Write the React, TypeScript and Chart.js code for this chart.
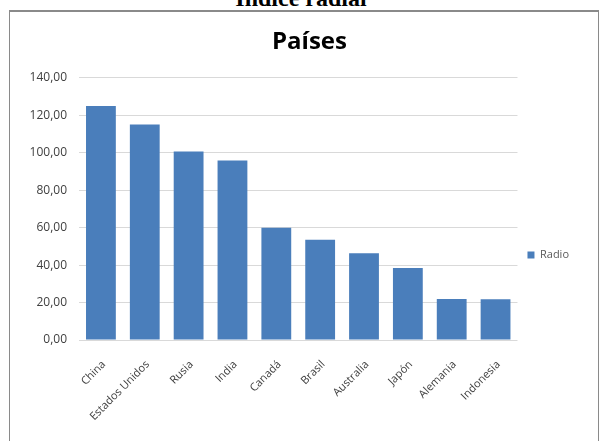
import React, { useEffect, useRef } from "react";
import { Chart, registerables } from "chart.js";

Chart.register(...registerables);

const categories = ["China", "Estados Unidos", "Rusia", "India", "Canadá", "Brasil", "Australia", "Japón", "Alemania", "Indonesia"];
const radioValues = [125, 115, 100.6, 95.8, 60, 53.5, 46.3, 38.4, 21.9, 21.8];
const seriesName = "Radio";
const chartTitle = "Países";
const pageHeading = "Índice radial";

const shiftBoxes = {
  id: "shiftBoxes",
  afterLayout(chart: any) {
    const lg = chart.legend;
    if (lg) {
      lg.top += 28;
      lg.bottom += 28;
    }
    const tb = chart.titleBlock;
    if (tb) {
      tb.left += 15;
      tb.right += 15;
    }
  },
};

export default function App() {
  const ref = useRef<HTMLCanvasElement | null>(null);

  useEffect(() => {
    if (!ref.current) return;
    const chart = new Chart(ref.current, {
      type: "bar",
      data: {
        labels: categories,
        datasets: [
          {
            label: seriesName,
            data: radioValues,
            backgroundColor: "#4a7ebb",
            borderWidth: 0,
            categoryPercentage: 0.68,
            barPercentage: 1,
          },
        ],
      },
      plugins: [shiftBoxes],
      options: {
        animation: false,
        responsive: true,
        maintainAspectRatio: false,
        layout: { padding: { left: 0, right: 19, top: 0, bottom: 0 } },
        plugins: {
          title: {
            display: true,
            text: chartTitle,
            font: { family: "'Open Sans', 'Liberation Sans', sans-serif", size: 24, weight: "bold" },
            color: "#000000",
            padding: { top: 15, bottom: 21 },
          },
          legend: {
            position: "right",
            labels: {
              boxWidth: 7,
              boxHeight: 7,
              padding: 10,
              color: "#595959",
              font: { family: "'Open Sans', 'Liberation Sans', sans-serif", size: 11 },
            },
          },
          tooltip: { enabled: false },
        },
        scales: {
          x: {
            grid: { display: false },
            border: { display: false },
            ticks: {
              color: "#404040",
              font: { family: "'Open Sans', 'Liberation Sans', sans-serif", size: 11 },
              minRotation: 45,
              maxRotation: 45,
              autoSkip: false,
              padding: 10,
              labelOffset: 3,
            },
            afterFit: (scale: any) => {
              scale.height = 101;
            },
          },
          y: {
            min: 0,
            max: 140,
            grid: { color: "#d9d9d9", drawTicks: false },
            border: { display: false },
            ticks: {
              stepSize: 20,
              padding: 12,
              color: "#404040",
              font: { family: "'Open Sans', 'Liberation Sans', sans-serif", size: 12 },
              callback: (v: any) => Number(v).toFixed(2).replace(".", ","),
            },
            afterFit: (scale: any) => {
              scale.width = 69;
            },
          },
        },
      },
    });
    return () => chart.destroy();
  }, []);

  return (
    <div style={{ position: "absolute", left: 0, top: 0, width: 602, height: 441, overflow: "hidden", background: "#fff" }}>
      <div
        style={{
          position: "absolute",
          left: 0,
          width: 602,
          top: -17,
          textAlign: "center",
          fontFamily: "'Liberation Serif', 'Times New Roman', serif",
          fontWeight: "bold",
          fontSize: 24,
          lineHeight: "30px",
          color: "#000",
        }}
      >
        {pageHeading}
      </div>
      <div
        style={{
          position: "absolute",
          left: 9,
          top: 10,
          width: 588,
          height: 440,
          border: "1px solid #8a8a8a",
          borderTop: "2px solid #8a8a8a",
        }}
      >
        <div style={{ position: "absolute", left: 0, top: 1, width: 588, height: 428 }}>
          <canvas ref={ref} />
        </div>
      </div>
    </div>
  );
}
